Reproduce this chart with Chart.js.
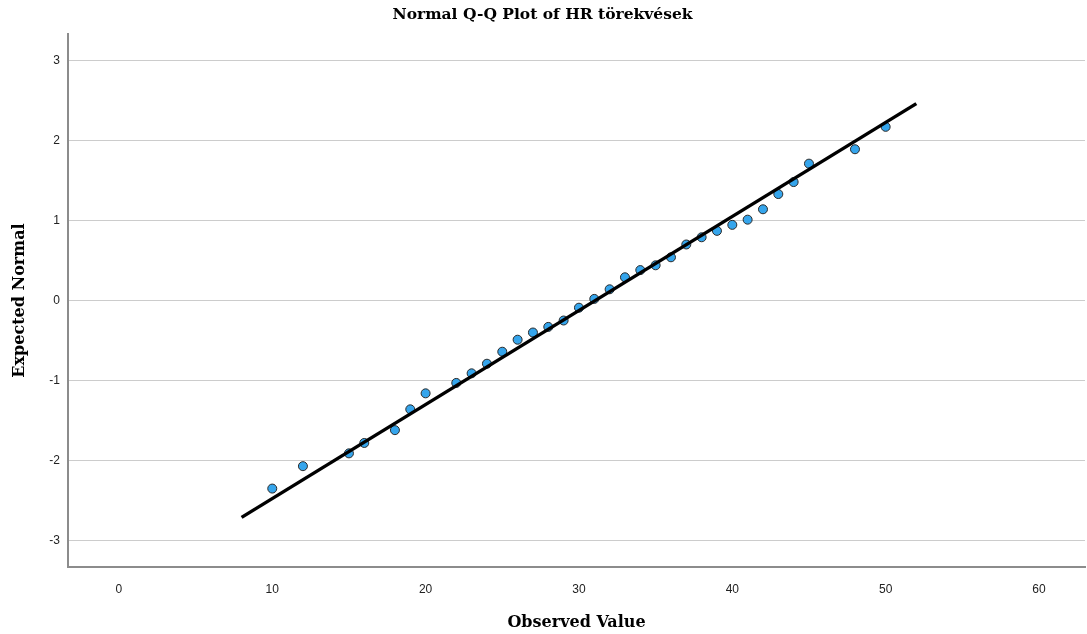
<!DOCTYPE html>
<html>
<head>
<meta charset="utf-8">
<script src="https://cdn.jsdelivr.net/npm/chart.js@4/dist/chart.umd.min.js"></script>
<style>
  html, body { margin: 0; padding: 0; background: #ffffff; }
  #wrap { width: 1087px; height: 634px; }
</style>
</head>
<body>
<div id="wrap"><canvas id="qq" width="1087" height="634"></canvas></div>
<script>
// Observed values and their expected normal quantiles
const observed = [10, 12, 15, 16, 18, 19, 20, 22, 23, 24, 25, 26, 27, 28, 29, 30, 31,
                  32, 33, 34, 35, 36, 37, 38, 39, 40, 41, 42, 43, 44, 45, 48, 50];
const expected = [-2.35, -2.07, -1.91, -1.78, -1.62, -1.36, -1.16, -1.03, -0.91, -0.79,
                  -0.64, -0.49, -0.40, -0.33, -0.25, -0.09, 0.02, 0.14, 0.29, 0.38,
                  0.44, 0.54, 0.70, 0.79, 0.87, 0.945, 1.01, 1.14, 1.33, 1.48, 1.71,
                  1.89, 2.17];

// Reference line end points
const lineX = [8, 52];
const lineY = [-2.71, 2.46];

// Tick labels
const xTicks = [0, 10, 20, 30, 40, 50, 60];
const yTicks = [-3, -2, -1, 0, 1, 2, 3];

const pointData = observed.map((x, i) => ({ x: x, y: expected[i] }));
const lineData = lineX.map((x, i) => ({ x: x, y: lineY[i] }));

const tickFont = { family: 'Liberation Sans, Arial, sans-serif', size: 12 };
const titleFont = { family: 'DejaVu Serif, serif', size: 16, weight: 'bold' };

new Chart(document.getElementById('qq'), {
  type: 'scatter',
  data: {
    datasets: [
      {
        type: 'line',
        data: lineData,
        borderColor: '#000000',
        borderWidth: 3.5,
        pointRadius: 0,
        fill: false,
        order: 0
      },
      {
        data: pointData,
        backgroundColor: '#35a5ec',
        borderColor: '#2a2a2a',
        borderWidth: 1,
        pointRadius: 4.5,
        order: 1
      }
    ]
  },
  options: {
    responsive: false,
    animation: false,
    layout: { autoPadding: false, padding: { left: 0, right: 2, top: 0, bottom: 0 } },
    plugins: {
      legend: { display: false },
      tooltip: { enabled: false },
      title: {
        display: true,
        text: 'Normal Q-Q Plot of HR törekvések',
        color: '#000000',
        font: { family: 'DejaVu Serif, serif', size: 15.5, weight: 'bold' },
        padding: { top: 6, bottom: 9.4 }
      }
    },
    scales: {
      x: {
        type: 'linear',
        min: -3.32,
        max: 63,
        afterBuildTicks: (s) => { s.ticks = xTicks.map(v => ({ value: v })); },
        afterFit: (s) => { s.height = 67; s.paddingLeft = 0; s.paddingRight = 0; },
        grid: { display: false, drawTicks: false },
        border: { display: true, color: '#8c8c8c', width: 2 },
        ticks: { color: '#222222', font: tickFont, padding: 15, maxRotation: 0 },
        title: { display: true, text: 'Observed Value', color: '#000000', font: titleFont,
                 padding: { top: 0, bottom: 2 } }
      },
      y: {
        type: 'linear',
        min: -3.33,
        max: 3.33,
        afterBuildTicks: (s) => { s.ticks = yTicks.map(v => ({ value: v })); },
        afterFit: (s) => { s.width = 68; s.paddingTop = 0; s.paddingBottom = 0; },
        grid: { color: '#cccccc', lineWidth: 1, drawTicks: false },
        border: { display: true, color: '#8c8c8c', width: 2 },
        ticks: { color: '#222222', font: tickFont, padding: 8 },
        title: { display: true, text: 'Expected Normal', color: '#000000', font: titleFont,
                 padding: { top: 10, bottom: 0 } }
      }
    }
  }
});
</script>
</body>
</html>
